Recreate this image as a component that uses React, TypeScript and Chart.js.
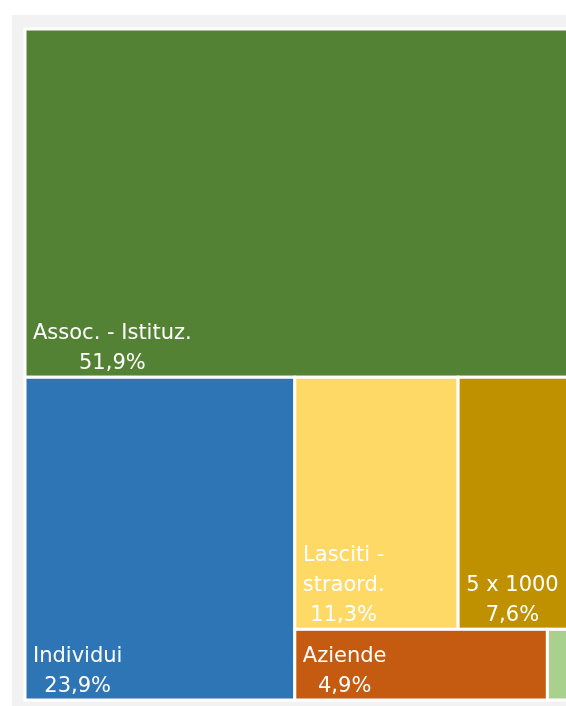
import React, { useEffect, useRef } from "react";
import { Chart, registerables } from "chart.js";

Chart.register(...registerables);

// ---- data ----
const categories = ["Assoc. - Istituz.", "Individui", "Lasciti - straord.", "5 x 1000", "Aziende", "Altro"];
const shares = [51.9, 23.9, 11.3, 7.6, 4.9, 0.4];
const colors = ["#548235", "#2E75B6", "#FFD966", "#BF9000", "#C55A11", "#A9D18E"];

// treemap grouping (indices into the arrays above) and strip orientation
const groups = [[0], [1], [2, 3], [4, 5]];
const groupDirs = ["row", "col", "row", "row"];

type Cell = { i: number; x0: number; y0: number; x1: number; y1: number };

function layout(): Cell[] {
  const cells: Cell[] = [];
  let rx = 0, ry = 0, rw = 1, rh = 1;
  let remaining = shares.reduce((a, b) => a + b, 0);
  groups.forEach((g, gi) => {
    const sum = g.reduce((a, i) => a + shares[i], 0);
    if (groupDirs[gi] === "row") {
      const sh = (sum / remaining) * rh;
      let cx = rx;
      g.forEach((i) => {
        const w = (shares[i] / sum) * rw;
        cells.push({ i, x0: cx, y0: ry, x1: cx + w, y1: ry + sh });
        cx += w;
      });
      ry += sh;
      rh -= sh;
    } else {
      const sw = (sum / remaining) * rw;
      let cy = ry;
      g.forEach((i) => {
        const h = (shares[i] / sum) * rh;
        cells.push({ i, x0: rx, y0: cy, x1: rx + sw, y1: cy + h });
        cy += h;
      });
      rx += sw;
      rw -= sw;
    }
    remaining -= sum;
  });
  return cells;
}

const fmtPct = (v: number) => v.toFixed(1).replace(".", ",") + "%";

const treemapPlugin = {
  id: "treemapCells",
  afterDatasetsDraw(chart: any) {
    const { ctx, scales } = chart;
    const xs = scales.x;
    const ys = scales.y;
    const cells = layout();
    ctx.save();
    const font = "21px 'DejaVu Sans'";
    const lineH = 30;
    const pad = 8;
    cells.forEach((c) => {
      const left = xs.getPixelForValue(c.x0);
      const right = xs.getPixelForValue(c.x1);
      const top = ys.getPixelForValue(c.y0);
      const bottom = ys.getPixelForValue(c.y1);
      const w = right - left;
      const h = bottom - top;
      ctx.fillStyle = colors[c.i];
      ctx.fillRect(left, top, w, h);
      ctx.strokeStyle = "#ffffff";
      ctx.lineWidth = 3;
      ctx.strokeRect(left, top, w, h);

      // label
      ctx.font = font;
      const avail = w - 2 * pad;
      const words = categories[c.i].split(" ");
      const lines: string[] = [];
      let cur = "";
      let ok = true;
      words.forEach((wd) => {
        const test = cur ? cur + " " + wd : wd;
        if (ctx.measureText(test).width <= avail) cur = test;
        else {
          if (cur) lines.push(cur);
          cur = wd;
          if (ctx.measureText(wd).width > avail) ok = false;
        }
      });
      if (cur) lines.push(cur);
      lines.push(fmtPct(shares[c.i]));
      if (!ok || lines.length * lineH > h) return;
      const blockW = Math.max(...lines.map((l) => ctx.measureText(l).width));
      const cx = left + pad + blockW / 2;
      ctx.fillStyle = "#ffffff";
      ctx.textAlign = "center";
      ctx.textBaseline = "alphabetic";
      lines.forEach((l, k) => {
        const y = bottom - pad - (lines.length - 1 - k) * lineH;
        ctx.fillText(l, cx, y);
      });
    });
    ctx.restore();
  },
};

export default function App() {
  const ref = useRef<HTMLCanvasElement | null>(null);
  useEffect(() => {
    if (!ref.current) return;
    const chart = new Chart(ref.current, {
      type: "scatter",
      data: { datasets: [{ label: "cells", data: [] }] },
      options: {
        animation: false,
        responsive: false,
        maintainAspectRatio: false,
        devicePixelRatio: 1,
        layout: { padding: { left: 25, top: 29, right: 8, bottom: 6 } },
        plugins: { legend: { display: false }, tooltip: { enabled: false } },
        scales: {
          x: { type: "linear", min: 0, max: 1, display: false },
          y: { type: "linear", min: 0, max: 1, reverse: true, display: false },
        },
      },
      plugins: [treemapPlugin],
    });
    return () => chart.destroy();
  }, []);
  return (
    <div style={{ position: "fixed", left: 0, top: 0, width: 566, height: 706, overflow: "hidden", background: "#ffffff" }}>
      <div style={{ position: "absolute", left: 12, top: 15, width: 600, height: 720, background: "#f2f2f2" }} />
      <canvas ref={ref} width={576} height={706} style={{ position: "absolute", left: 0, top: 0, width: 576, height: 706 }} />
    </div>
  );
}
